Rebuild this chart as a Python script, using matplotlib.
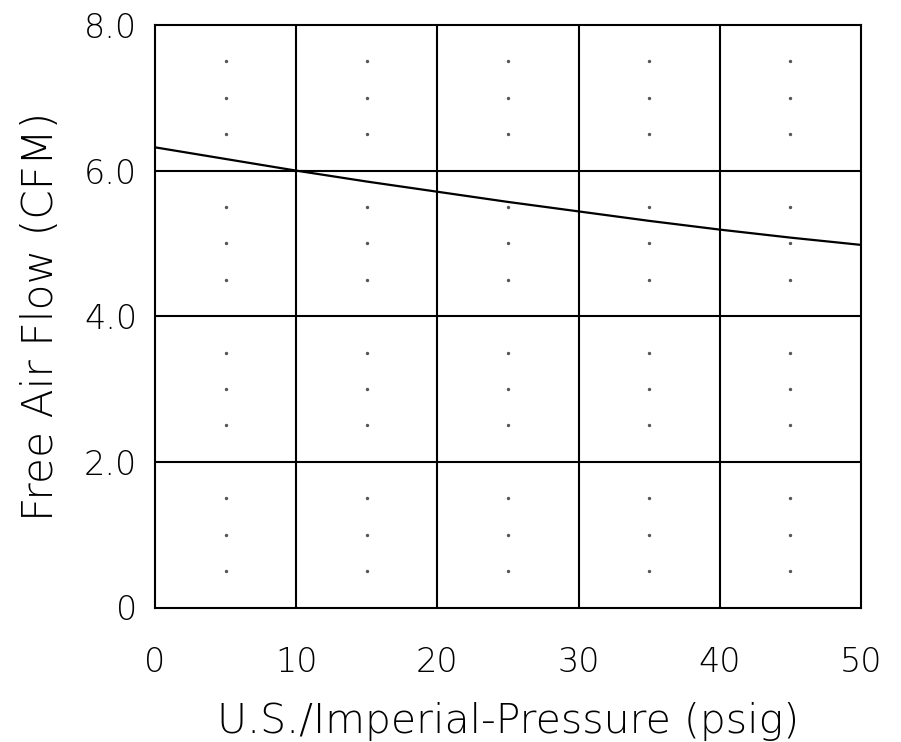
import numpy as np
import matplotlib
matplotlib.use("Agg")
import matplotlib.pyplot as plt

# curve
pressure_psig = [0, 5, 10, 15, 20, 25, 30, 35, 40, 45, 50]
flow_cfm = [6.32, 6.16, 6.00, 5.85, 5.71, 5.57, 5.44, 5.31, 5.19, 5.08, 4.98]

x_ticks = [0, 10, 20, 30, 40, 50]
x_ticklabels = ["0", "10", "20", "30", "40", "50"]
y_ticks = [0, 2, 4, 6, 8]
y_ticklabels = ["0", "2.0", "4.0", "6.0", "8.0"]

# minor dot grid positions
dot_x = [5, 15, 25, 35, 45]
dot_y = [v for v in np.arange(0.5, 8.0, 0.5) if v % 2 != 0]

plt.rcParams['font.family'] = ['DejaVu Sans']

fig = plt.figure(figsize=(9.01, 7.42), dpi=100)
ax = fig.add_axes([155 / 901, (742 - 607.5) / 742, 706 / 901, 582.5 / 742])

ax.set_xlim(0, 50)
ax.set_ylim(0, 8)

for xv in x_ticks[1:-1]:
    ax.axvline(xv, color='black', lw=1.5, zorder=1)
for yv in y_ticks[1:-1]:
    ax.axhline(yv, color='black', lw=1.5, zorder=1)

dx, dy = np.meshgrid(dot_x, dot_y)
ax.scatter(dx.ravel(), dy.ravel(), s=2, color='#555555', zorder=2)

ax.plot(pressure_psig, flow_cfm, color='black', lw=1.6, zorder=3)

for sp in ax.spines.values():
    sp.set_linewidth(1.5)

ax.set_xticks(x_ticks)
ax.set_xticklabels(x_ticklabels)
ax.set_yticks(y_ticks)
ax.set_yticklabels(y_ticklabels)
ax.tick_params(length=0, labelsize=24)
ax.tick_params(axis='x', pad=28)
ax.tick_params(axis='y', pad=13)
for lab in ax.get_xticklabels() + ax.get_yticklabels():
    lab.set_fontweight('light')

ax.set_xlabel('U.S./Imperial-Pressure (psig)', fontsize=29.5, fontweight='light', labelpad=16)
ax.set_ylabel('Free Air Flow (CFM)', fontsize=30.5, fontweight='light', labelpad=16)

fig.savefig('out.png', dpi=100)
